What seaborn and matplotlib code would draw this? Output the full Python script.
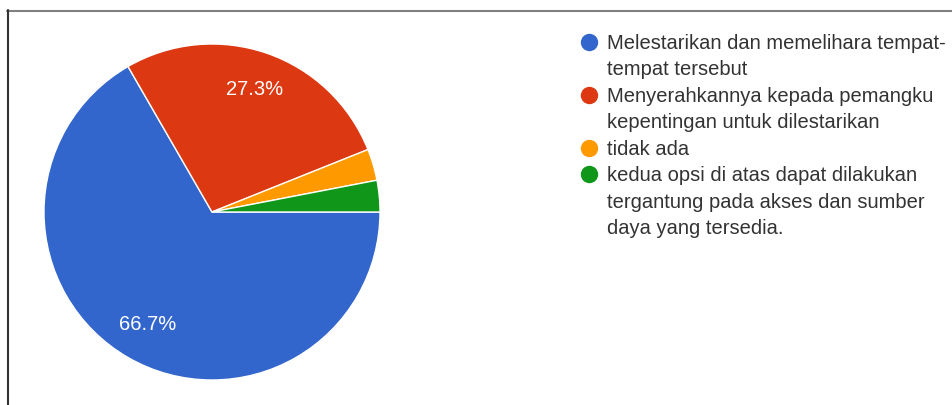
import matplotlib
matplotlib.use('Agg')
import matplotlib.pyplot as plt
import seaborn as sns
from matplotlib.lines import Line2D

# ---- data ----
categories = [
    "Melestarikan dan memelihara tempat-\ntempat tersebut",
    "Menyerahkannya kepada pemangku\nkepentingan untuk dilestarikan",
    "tidak ada",
    "kedua opsi di atas dapat dilakukan\ntergantung pada akses dan sumber\ndaya yang tersedia.",
]
counts = [22, 9, 1, 1]
colors = ["#3366cc", "#dc3912", "#ff9900", "#109618"]

sns.set_theme(style="white")
plt.rcParams['font.family'] = ['Liberation Sans', 'DejaVu Sans']

W, H = 952, 405
fig = plt.figure(figsize=(W / 100, H / 100), dpi=100)
fig.patch.set_facecolor('white')

# pie axes: center ~(212,212), radius ~168 px
ax = fig.add_axes([44 / W, (H - 380) / H, 336 / W, 336 / H])
wedges, texts, autotexts = ax.pie(
    counts, colors=colors, startangle=0, counterclock=False,
    autopct=lambda p: f'{p:.1f}%' if p >= 5 else '',
    pctdistance=0.77,
    wedgeprops=dict(edgecolor='white', linewidth=1.0),
    textprops=dict(color='white', fontsize=14.5),
)
ax.set_xlim(-1, 1)
ax.set_ylim(-1, 1)
ax.set_aspect('equal')

# legend: one row per text line, marker only on first line of each entry
handles, labels = [], []
for cat, col in zip(categories, colors):
    for i, ln in enumerate(cat.split('\n')):
        if i == 0:
            handles.append(Line2D([], [], linestyle='none', marker='o', markersize=11.5,
                                  markerfacecolor=col, markeredgecolor=col))
        else:
            handles.append(Line2D([], [], linestyle='none', marker=None))
        labels.append(ln)
leg = fig.legend(handles, labels, loc='upper left', bbox_to_anchor=(581 / W, 1 - 34 / H),
                 frameon=False, fontsize=14.5, handlelength=0.8, handletextpad=0.5,
                 labelspacing=0.37, borderpad=0, borderaxespad=0)
for t in leg.get_texts():
    t.set_color('#333333')

# screenshot frame lines (top and left)
fig.add_artist(Line2D([7 / W, 1], [1 - 10.5 / H, 1 - 10.5 / H], transform=fig.transFigure,
                      color='#808080', lw=1.5))
fig.add_artist(Line2D([7.5 / W, 7.5 / W], [0, 1 - 10 / H], transform=fig.transFigure,
                      color='#333333', lw=1.5))

fig.savefig('out.png', dpi=100)
